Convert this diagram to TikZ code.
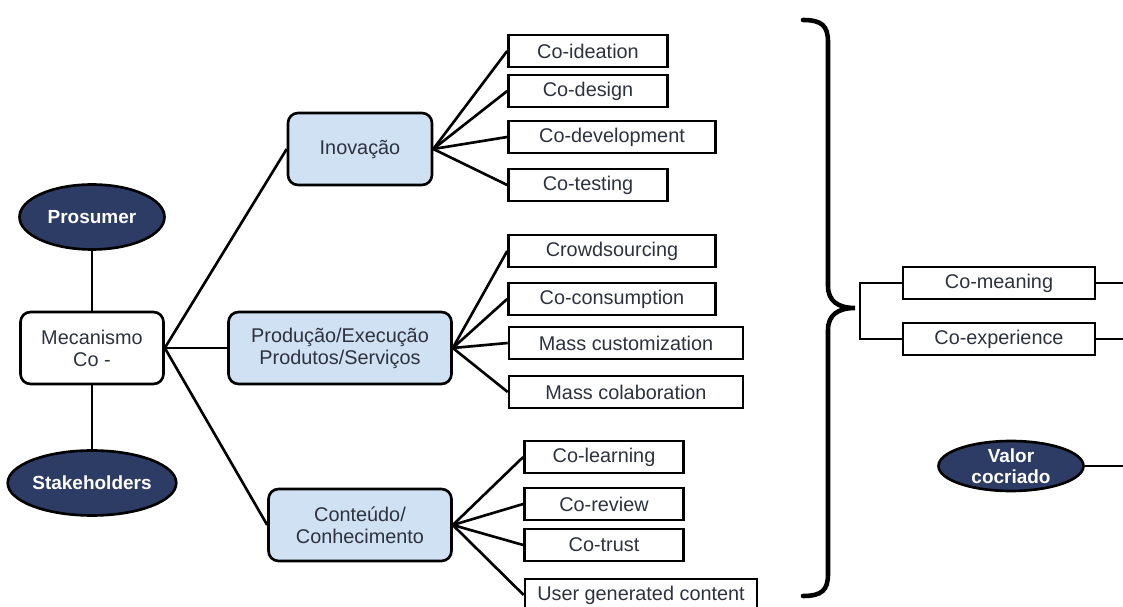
\documentclass[tikz,border=0pt]{standalone}
\usepackage{fontspec}
\setmainfont{Liberation Sans}
\usepackage{tikz}
\usetikzlibrary{shapes.geometric}
\definecolor{node_navy}{RGB}{45,60,100}
\definecolor{box_blue}{RGB}{207,225,243}
\definecolor{text_gray}{RGB}{45,50,62}
\newcommand{\boxfont}{\fontsize{11.3}{12.5}\selectfont}
\newcommand{\actorfont}{\fontsize{10.8}{12}\selectfont\bfseries}

\begin{document}
\begin{tikzpicture}[x=0.02cm,y=-0.02cm,line width=1.5pt]
    \tikzstyle{actor}=[draw=black, ellipse, fill=node_navy, text=white, font=\actorfont, inner sep=0pt, align=center, minimum height=1.3cm]
    \tikzstyle{mech}=[draw=black, rectangle, rounded corners=0.2cm, fill=white, text=text_gray, font=\boxfont, align=center, inner sep=0pt, minimum height=1.44cm]
    \tikzstyle{area}=[style=mech, fill=box_blue]
    \tikzstyle{leaf}=[draw=black, rectangle, fill=white, text=text_gray, font=\boxfont, inner sep=0pt, minimum height=0.64cm, minimum width=3.18cm]

    \useasboundingbox (0,0) rectangle (1123,607);
    \clip (0,0) rectangle (1123,607);

    % left side
    \node[actor, minimum width=2.9cm]  (prosumer) at (92,217) {Prosumer};
    \node[mech, minimum width=2.86cm]  (mecan)    at (92,348) {Mecanismo\\Co -};
    \node[actor, minimum width=3.22cm] (stake)    at (92,483) {Stakeholders};

    % middle
    \node[area, minimum width=2.88cm] (inov) at (360,149) {Inovação};
    \node[area, minimum width=4.46cm] (prod) at (340,348) {Produção/Execução\\Produtos/Serviços};
    \node[area, minimum width=3.66cm] (cont) at (360,525) {Conteúdo/\\Conhecimento};

    % leaves
    \node[leaf]                     (ideation) at (588,51)  {Co-ideation};
    \node[leaf]                     (design)   at (588,91)  {Co-design};
    \node[leaf, minimum width=4.14cm] (develop) at (612,137) {Co-development};
    \node[leaf]                     (testing)  at (588,185) {Co-testing};

    \node[leaf, minimum width=4.14cm] (crowd)   at (612,251) {Crowdsourcing};
    \node[leaf, minimum width=4.14cm] (consump) at (612,299) {Co-consumption};
    \node[leaf, minimum width=4.68cm] (custom)  at (626,343) {Mass customization};
    \node[leaf, minimum width=4.68cm] (colab)   at (626,392) {Mass colaboration};

    \node[leaf]                     (learning) at (604,457) {Co-learning};
    \node[leaf]                     (review)   at (604,504) {Co-review};
    \node[leaf]                     (trust)    at (604,545) {Co-trust};
    \node[leaf, minimum width=4.64cm] (ugc)    at (641,595) {User generated content};

    % right side
    \node[leaf, minimum width=3.84cm] (meaning) at (999,283) {Co-meaning};
    \node[leaf, minimum width=3.84cm] (exper)   at (999,339) {Co-experience};
    \node[actor, minimum width=2.9cm, minimum height=1.0cm] (valor) at (1011,466) {Valor\\cocriado};

    \coordinate (split)    at (860,311);
    \coordinate (meanend)  at (1130,283);
    \coordinate (experend) at (1130,339);
    \coordinate (valorend) at (1130,466);

    \path
     (prosumer) edge (mecan)
     (mecan) edge (stake)
     (mecan.east) edge (inov.west)
     (mecan.east) edge (prod.west)
     (mecan.east) edge (cont.west)
     (inov.east) edge (ideation.west)
     (inov.east) edge (design.west)
     (inov.east) edge (develop.west)
     (inov.east) edge (testing.west)
     (prod.east) edge (crowd.west)
     (prod.east) edge (consump.west)
     (prod.east) edge (custom.west)
     (prod.east) edge (colab.west)
     (cont.east) edge (learning.west)
     (cont.east) edge (review.west)
     (cont.east) edge (trust.west)
     (cont.east) edge (ugc.west)
     (meaning) edge (meanend)
     (exper) edge (experend)
     (valor) edge (valorend)
     ;

    \draw (meaning.west) -| (split) |- (exper.west);
    % big brace
    \draw[line width=2.6pt, line cap=round]
      (803,20) .. controls (822,20) and (828,26) .. (828,42) -- (828,286)
      .. controls (828,301) and (838,308) .. (855,308)
      .. controls (838,308) and (828,315) .. (828,330) -- (828,574)
      .. controls (828,590) and (822,596) .. (803,596);
\end{tikzpicture}
\end{document}
